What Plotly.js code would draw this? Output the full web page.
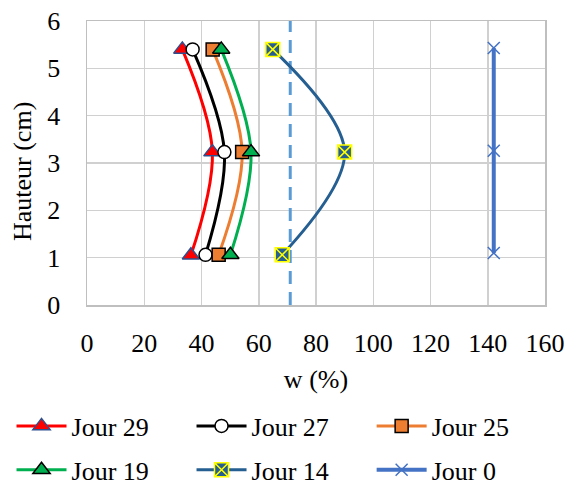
<!DOCTYPE html>
<html><head><meta charset="utf-8">
<script src="https://cdn.plot.ly/plotly-3.0.1.min.js"></script>
<style>html,body{margin:0;padding:0;background:#fff}#chart{width:570px;height:487px}</style>
</head><body><div id="chart"></div>
<script>
const seriesNames = ["Jour 29","Jour 27","Jour 25","Jour 19","Jour 14","Jour 0"];
const j29x = [33.3, 43.8, 36.3], j29y = [5.4, 3.23, 1.05];
const j27x = [36.9, 48.0, 41.4], j27y = [5.4, 3.23, 1.06];
const j25x = [43.9, 54.2, 46.0], j25y = [5.4, 3.23, 1.06];
const j19x = [46.9, 57.3, 50.1], j19y = [5.4, 3.23, 1.06];
const j14x = [64.9, 90.0, 68.2], j14y = [5.4, 3.23, 1.06];
const j0x  = [142.1, 142.1, 142.1], j0y = [5.43, 3.26, 1.1];
const refX = [71, 71], refY = [0, 6];
const xTicks = [0,20,40,60,80,100,120,140,160];
const yTicks = [0,1,2,3,4,5,6];
const xTitle = 'w (%)';
const yTitle = 'Hauteur (cm)';

const FONT = "Liberation Serif, Times New Roman, serif";
function tr(name, leg, x, y, color, width, sym, size, fill, lcol, lw, shape){
  return {type:'scatter', mode:'lines+markers', name:name, legend:leg, legendgroup:name, x:x, y:y,
    line:{color:color, width:width, shape:shape||'spline', smoothing:1},
    marker:{symbol:sym, size:size, color:fill, line:{color:lcol, width:lw}}};
}
const data = [
  {type:'scatter', mode:'lines', x:refX, y:refY, showlegend:false, hoverinfo:'skip',
   line:{color:'#5B9BD5', width:3, dash:'13px,8px'}},
  tr(seriesNames[0], 'legend',  j29x, j29y, '#FF0000', 3, 'triangle-up', 15, '#FF0000', '#2F4F8F', 1.5),
  tr(seriesNames[1], 'legend2', j27x, j27y, '#000000', 3, 'circle', 13, '#FFFFFF', '#000000', 1.5),
  tr(seriesNames[2], 'legend3', j25x, j25y, '#ED7D31', 3, 'square', 13, '#ED7D31', '#000000', 1.5),
  tr(seriesNames[3], 'legend',  j19x, j19y, '#00B050', 3, 'triangle-up', 15, '#00B050', '#000000', 1.5),
  tr(seriesNames[4], 'legend2', j14x, j14y, '#255E91', 3, 'square-x', 14, '#255E91', '#FFFF00', 1.5),
  tr(seriesNames[5], 'legend3', j0x, j0y, '#4472C4', 4, 'x-thin-open', 12, '#4472C4', '#4472C4', 1.5, 'linear')
];
function leg(x){
  return {orientation:'v', xref:'container', yref:'container', x:x, y:0.1735, xanchor:'left', yanchor:'top',
    font:{family:FONT, size:26}, bgcolor:'rgba(0,0,0,0)', itemwidth:50, tracegroupgap:7, traceorder:'grouped'};
}
const layout = {
  width:570, height:487,
  margin:{l:87, r:25, t:21, b:181.5, autoexpand:false},
  paper_bgcolor:'#fff', plot_bgcolor:'#fff',
  font:{family:FONT, size:26, color:'#000'},
  showlegend:true,
  xaxis:{range:[0,160], tickvals:xTicks, ticktext:xTicks.map(String), showgrid:true, gridcolor:'#D0D0D0', gridwidth:1.5,
    zeroline:false, showline:true, linecolor:'#BFBFBF', linewidth:1.5, mirror:true, ticks:'', ticklabelstandoff:14,
    title:{text:xTitle, font:{family:FONT, size:26}, standoff:13}},
  yaxis:{range:[0,6], tickvals:yTicks, ticktext:yTicks.map(String), showgrid:true, gridcolor:'#D0D0D0', gridwidth:1.5,
    zeroline:false, showline:true, linecolor:'#BFBFBF', linewidth:1.5, mirror:true, ticks:'', ticklabelstandoff:20},
  annotations:[{text:yTitle, xref:'paper', yref:'paper', x:-0.1408, y:0.47, xanchor:'center', yanchor:'middle',
    textangle:-90, showarrow:false, font:{family:FONT, size:26, color:'#000'}}],
  legend: leg(0.0202),
  legend2: leg(0.336),
  legend3: leg(0.652)
};
Plotly.newPlot('chart', data, layout, {displayModeBar:false, staticPlot:true});
</script></body></html>
